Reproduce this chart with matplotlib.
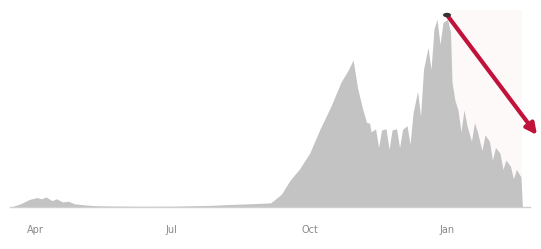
import matplotlib
matplotlib.use("Agg")
import matplotlib.pyplot as plt
import pandas as pd

# Daily new cases (approximate readings at key dates)
dates = ["2020-03-15", "2020-03-17", "2020-03-22", "2020-03-28", "2020-04-02", "2020-04-05",
         "2020-04-08", "2020-04-12", "2020-04-15", "2020-04-19", "2020-04-23", "2020-04-27",
         "2020-05-01", "2020-05-05", "2020-05-11", "2020-05-20", "2020-06-10", "2020-07-01",
         "2020-07-27", "2020-08-10", "2020-08-22", "2020-09-05", "2020-09-12", "2020-09-18",
         "2020-09-24", "2020-10-01", "2020-10-08", "2020-10-15", "2020-10-22", "2020-10-27",
         "2020-10-30", "2020-11-02", "2020-11-05", "2020-11-08", "2020-11-10", "2020-11-11",
         "2020-11-14", "2020-11-16", "2020-11-18", "2020-11-21", "2020-11-23", "2020-11-25",
         "2020-11-28", "2020-11-30", "2020-12-02", "2020-12-05", "2020-12-07", "2020-12-09",
         "2020-12-12", "2020-12-14", "2020-12-16", "2020-12-19", "2020-12-21", "2020-12-23",
         "2020-12-25", "2020-12-27", "2020-12-29", "2021-01-01", "2021-01-03", "2021-01-04",
         "2021-01-06", "2021-01-08", "2021-01-10", "2021-01-12", "2021-01-14", "2021-01-17",
         "2021-01-19", "2021-01-21", "2021-01-24", "2021-01-26", "2021-01-29", "2021-01-31",
         "2021-02-02", "2021-02-05", "2021-02-07", "2021-02-09", "2021-02-12", "2021-02-14",
         "2021-02-16", "2021-02-19", "2021-02-20"]
cases = [0, 100, 500, 1200, 1500, 1300,
         1600, 1000, 1300, 800, 900, 500,
         400, 300, 200, 150, 100, 120,
         250, 400, 500, 650, 2000, 4300,
         6000, 8600, 12500, 16000, 20000, 22000,
         23500, 19000, 16000, 13500, 13400, 12000,
         12500, 9500, 12300, 12500, 9200, 12300,
         12500, 9500, 12400, 13000, 10000, 15000,
         18500, 14500, 22000, 25500, 22000, 28500,
         30000, 26000, 29500, 30000, 28000, 20000,
         17000, 15500, 12000, 15500, 13000, 10500,
         13500, 12000, 9000, 11500, 10500, 7500,
         9500, 8600, 6000, 7500, 6500, 4500,
         6000, 4800, 0]
tick_dates = ["2020-04-01", "2020-07-01", "2020-10-01", "2021-01-01"]
tick_labels = ["Apr", "Jul", "Oct", "Jan"]

x = pd.to_datetime(dates)

fig = plt.figure(figsize=(5.41, 2.49), dpi=100)
ax = fig.add_axes([0.0185, 0.169, 0.961, 0.791])

ax.fill_between(x, cases, 0, color="#c3c3c3", linewidth=0)
ax.axvspan(pd.Timestamp("2021-01-03"), pd.Timestamp("2021-02-20"),
           color="#f4d8dc", alpha=0.15, zorder=0, linewidth=0)

ax.set_xlim(pd.Timestamp("2020-03-15"), pd.Timestamp("2021-02-25"))
ax.set_ylim(0, 31500)

ax.set_xticks(pd.to_datetime(tick_dates))
ax.set_xticklabels(tick_labels, fontsize=7, color="#8a8a8a")
ax.tick_params(axis="x", length=0, pad=13)
ax.set_yticks([])
for s in ["top", "right", "left"]:
    ax.spines[s].set_visible(False)
ax.spines["bottom"].set_color("#d0d0d0")
ax.spines["bottom"].set_linewidth(1.0)

# Red downward arrow annotation
ax.annotate("", xy=(537 / 541, 1 - 135 / 249), xycoords="figure fraction",
            xytext=(447 / 541, 1 - 15 / 249), textcoords="figure fraction",
            arrowprops=dict(arrowstyle="-|>", color="#c0123a", lw=3,
                            mutation_scale=16, shrinkA=0, shrinkB=0))
fig.patches.append(plt.Circle((447 / 541, 1 - 15 / 249), 0.006,
                              transform=fig.transFigure, color="#333333", zorder=5))

fig.savefig("out.png", dpi=100)
